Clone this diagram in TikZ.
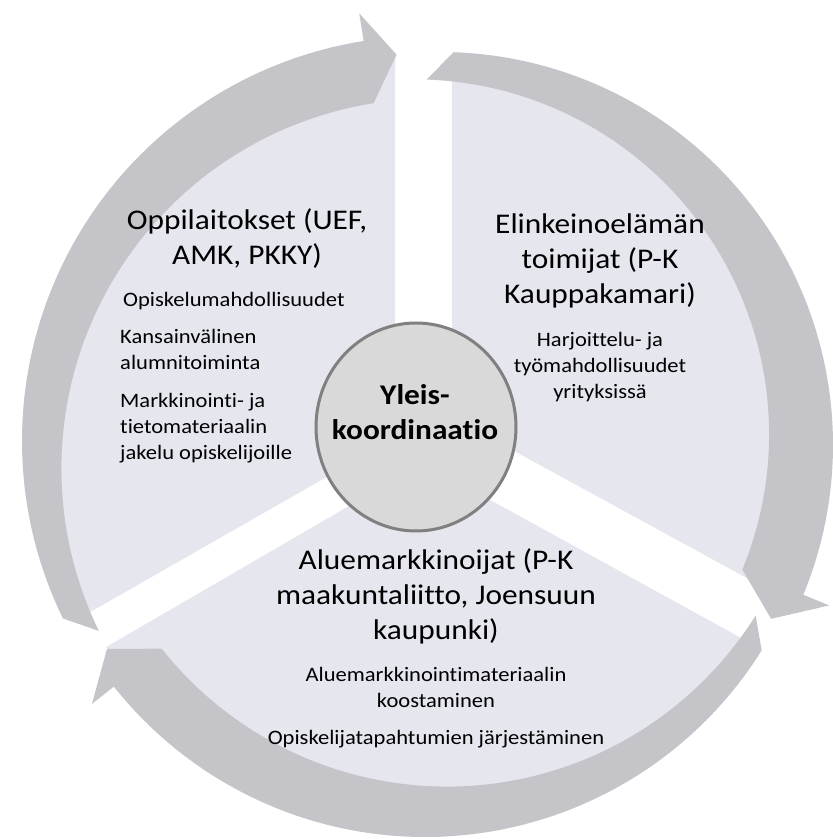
\documentclass[tikz,border=0pt]{standalone}
\usepackage{fontspec}
\setmainfont[FakeStretch=1.1, Ligatures=NoCommon]{Carlito}
\usetikzlibrary{shapes.geometric}
\definecolor{sectorgray}{RGB}{229,230,238}
\definecolor{bandgray}{RGB}{196,196,201}
\definecolor{hubgray}{RGB}{217,217,217}
\definecolor{hubrim}{RGB}{128,128,128}
\newcommand{\TitleFont}{\fontsize{28.5}{35}\selectfont}
\newcommand{\ItemFont}{\fontsize{20.5}{26}\selectfont}

\begin{document}
\begin{tikzpicture}[x=1pt, y=1pt,
  sectorfill/.style={fill=sectorgray},
  arrowband/.style={fill=bandgray},
  hub/.style={ellipse, fill=hubgray, draw=hubrim, line width=3pt,
    minimum width=200pt, minimum height=208pt, inner sep=0pt},
  titletext/.style={font=\TitleFont, align=center, inner sep=0pt, anchor=base},
  itemtext/.style={font=\ItemFont, align=left, inner sep=0pt, anchor=base west},
  centreitem/.style={font=\ItemFont, align=center, inner sep=0pt, anchor=base}]
\useasboundingbox (0,0) rectangle (833,839);

% sector fills: centre x/y, corner x/y, start, end, radius
\foreach \cx/\cy/\vx/\vy/\angA/\angB/\rad in
{427/398/-32/3/94.7/207/387.5, 440/394/12/28/88.2/-24/374, 425/399/-2/-23/328/213/380}
\fill[sectorfill, shift={(\cx,\cy)}] (\vx,\vy) -- (\angA:\rad)
  arc[start angle=\angA, end angle=\angB, radius=\rad] -- cycle;

% arrow bands: centre x/y, outer, inner, tail, head base, tip
\foreach \cx/\cy/\ro/\ri/\tailang/\baseang/\tipang in
{427/398/405/370/206/99/94.5, 440/394/393/355/88/-22.4/-27.7, 425/399/397/364/328/218.4/213.3}
\fill[arrowband, shift={(\cx,\cy)}] (\tailang:\ro)
  arc[start angle=\tailang, end angle=\baseang, radius=\ro]
  -- (\baseang:{\ro+28}) -- (\tipang:{(\ro+\ri)/2}) -- (\baseang:{\ri-28})
  arc[start angle=\baseang, end angle=\tailang, radius=\ri] -- cycle;

% centre circle
\node[hub] (hub) at (416,412) {};
\node[font=\TitleFont\bfseries, align=center, inner sep=0pt, anchor=base] (hubtext)
  at (415,399) {Yleis-\\koordinaatio};

% left segment
\node[titletext] (lefttitle) at (247,574) {Oppilaitokset (UEF,\\AMK, PKKY)};
\node[itemtext] (leftitemA) at (123,532) {Opiskelumahdollisuudet};
\node[itemtext] (leftitemB) at (120,469) {Kansainvälinen\\alumnitoiminta};
\node[itemtext] (leftitemC) at (120,379) {Markkinointi- ja\\tietomateriaalin\\jakelu opiskelijoille};

% right segment
\node[titletext] (righttitle) at (600,535) {Elinkeinoelämän\\toimijat (P-K\\Kauppakamari)};
\node[centreitem] (rightitem) at (600,440) {Harjoittelu- ja\\työmahdollisuudet\\yrityksissä};

% bottom segment
\node[titletext] (bottomtitle) at (436,199) {Aluemarkkinoijat (P-K\\maakuntaliitto, Joensuun\\kaupunki)};
\node[centreitem] (bottomitemA) at (436,131) {Aluemarkkinointimateriaalin\\koostaminen};
\node[centreitem] (bottomitemB) at (436,94) {Opiskelijatapahtumien järjestäminen};
\end{tikzpicture}
\end{document}
